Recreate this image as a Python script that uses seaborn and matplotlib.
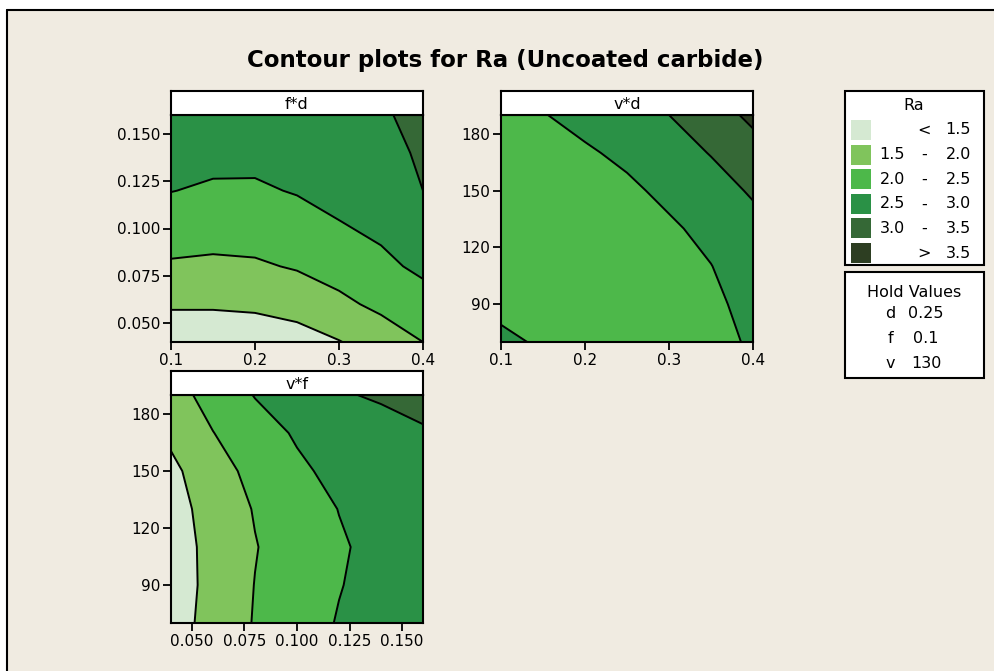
import numpy as np
import matplotlib
matplotlib.use("Agg")
import matplotlib.pyplot as plt
import seaborn as sns
from matplotlib.patches import Rectangle
from matplotlib.lines import Line2D

# ---------------- data ----------------
d_vals = [0.10, 0.15, 0.20, 0.25, 0.30, 0.35, 0.40]
f_vals = [0.04, 0.06, 0.08, 0.10, 0.12, 0.14, 0.16]
v_vals = [70, 90, 110, 130, 150, 170, 190]

# Ra over (f rows, d cols), v held at 130
ra_fd = [
    [1.16, 1.16, 1.20, 1.29, 1.48, 1.72, 2.00],
    [1.56, 1.56, 1.59, 1.69, 1.89, 2.11, 2.32],
    [1.94, 1.91, 1.94, 2.04, 2.20, 2.40, 2.59],
    [2.24, 2.19, 2.20, 2.29, 2.46, 2.58, 2.80],
    [2.51, 2.44, 2.44, 2.53, 2.64, 2.69, 3.00],
    [2.69, 2.63, 2.62, 2.70, 2.79, 2.84, 3.07],
    [2.87, 2.79, 2.79, 2.87, 2.93, 2.95, 3.12],
]
# Ra over (v rows, d cols), f held at 0.1
ra_vd = [
    [2.60, 2.44, 2.38, 2.38, 2.41, 2.45, 2.52],
    [2.38, 2.33, 2.32, 2.34, 2.38, 2.46, 2.56],
    [2.25, 2.25, 2.28, 2.33, 2.40, 2.49, 2.76],
    [2.18, 2.21, 2.26, 2.33, 2.43, 2.63, 2.86],
    [2.16, 2.22, 2.30, 2.41, 2.61, 2.82, 3.05],
    [2.22, 2.33, 2.44, 2.60, 2.81, 3.02, 3.32],
    [2.36, 2.48, 2.65, 2.82, 3.00, 3.29, 3.60],
]
# Ra over (v rows, f cols), d held at 0.25
ra_vf = [
    [1.27, 1.68, 2.03, 2.29, 2.53, 2.70, 2.87],
    [1.24, 1.65, 2.01, 2.24, 2.48, 2.66, 2.82],
    [1.26, 1.65, 1.98, 2.22, 2.45, 2.63, 2.80],
    [1.31, 1.69, 2.03, 2.27, 2.51, 2.69, 2.87],
    [1.39, 1.80, 2.14, 2.42, 2.62, 2.79, 2.96],
    [1.60, 1.99, 2.30, 2.55, 2.70, 2.84, 2.97],
    [1.80, 2.18, 2.52, 2.74, 2.96, 3.05, 3.10],
]

levels = [1.5, 2.0, 2.5, 3.0, 3.5]
legend_labels = [("", "<", "1.5"), ("1.5", "-", "2.0"), ("2.0", "-", "2.5"),
                 ("2.5", "-", "3.0"), ("3.0", "-", "3.5"), ("", ">", "3.5")]
colors = ["#d5e9d2", "#80c45c", "#4db84a", "#2a9146", "#356836", "#2d3e22"]

hold_names = ["d", "f", "v"]
hold_values = ["0.25", "0.1", "130"]

d_ticks = [0.1, 0.2, 0.3, 0.4]
f_ticks = [0.050, 0.075, 0.100, 0.125, 0.150]
v_ticks = [90, 120, 150, 180]

title = "Contour plots for Ra (Uncoated carbide)"

# ---------------- style ----------------
sns.set_theme(style="ticks")
plt.rcParams["font.family"] = ["DejaVu Sans"]
plt.rcParams["text.color"] = "black"
plt.rcParams["axes.labelcolor"] = "black"
plt.rcParams["xtick.color"] = "black"
plt.rcParams["ytick.color"] = "black"
BG = "#f0ebe1"
W, H = 995, 671
fig = plt.figure(figsize=(W / 100, H / 100), dpi=100, facecolor="white")

# background panel with top/left border
fig.patches.append(Rectangle((7 / W, 0), 1, 1 - 10 / H, transform=fig.transFigure,
                             facecolor=BG, edgecolor="none", zorder=-10))
fig.lines.append(Line2D([7 / W, 1], [1 - 10 / H, 1 - 10 / H], transform=fig.transFigure,
                        color="black", lw=1.5))
fig.lines.append(Line2D([7 / W, 7 / W], [0, 1 - 10 / H], transform=fig.transFigure,
                        color="black", lw=1.5))

fig.text(505 / W, 1 - 61 / H, title, ha="center", va="center",
         fontsize=16.5, fontweight="bold", color="black")

bounds = [-10] + levels + [10]


def panel(px, py_top, py_bot, xs, ys, zz, xticks, yticks, xfmt, yfmt, label, xlim, ylim):
    left = px / W
    width = 252 / W
    bottom = 1 - py_bot / H
    height = (py_bot - py_top) / H
    ax = fig.add_axes([left, bottom, width, height])
    X, Y = np.meshgrid(xs, ys)
    Z = np.array(zz)
    ax.contourf(X, Y, Z, levels=bounds, colors=colors)
    ax.contour(X, Y, Z, levels=levels, colors="black", linewidths=1.4)
    ax.set_xlim(*xlim)
    ax.set_ylim(*ylim)
    ax.set_xticks(xticks)
    ax.set_xticklabels([xfmt.format(t) for t in xticks])
    ax.set_yticks(yticks)
    ax.set_yticklabels([yfmt.format(t) for t in yticks])
    ax.tick_params(direction="out", length=6, width=1.3, labelsize=11, pad=2,
                   colors="black", labelcolor="black")
    for s in ax.spines.values():
        s.set_color("black")
        s.set_linewidth(1.5)
    ax.set_xlabel("")
    ax.set_ylabel("")
    # strip
    sax = fig.add_axes([left, 1 - py_top / H, width, 24 / H])
    sax.set_facecolor("white")
    sax.set_xticks([])
    sax.set_yticks([])
    for s in sax.spines.values():
        s.set_color("black")
        s.set_linewidth(1.5)
    sax.text(0.5, 0.45, label, ha="center", va="center", fontsize=11.5,
             color="black", transform=sax.transAxes)
    return ax


panel(171, 115, 342, d_vals, f_vals, ra_fd, d_ticks, f_ticks, "{:.1f}", "{:.3f}", "f*d",
      (0.1, 0.4), (0.04, 0.16))
panel(501, 115, 342, d_vals, v_vals, ra_vd, d_ticks, v_ticks, "{:.1f}", "{:.0f}", "v*d",
      (0.1, 0.4), (70, 190))
panel(171, 395, 623, f_vals, v_vals, ra_vf, f_ticks, v_ticks, "{:.3f}", "{:.0f}", "v*f",
      (0.04, 0.16), (70, 190))

# ---------------- legend box ----------------
def fx(x):
    return x / W


def fy(y):
    return 1 - y / H


fig.patches.append(Rectangle((fx(845), fy(265)), (984 - 845) / W, (265 - 91) / H,
                             transform=fig.transFigure, facecolor="white",
                             edgecolor="black", lw=1.5))
fig.text(fx(914), fy(105), "Ra", ha="center", va="center", fontsize=11.5)
for i, (lo, sym, hi) in enumerate(legend_labels):
    yc = 130 + i * 24.6
    fig.patches.append(Rectangle((fx(851), fy(yc + 10)), 20 / W, 20 / H,
                                 transform=fig.transFigure, facecolor=colors[i],
                                 edgecolor="none"))
    if lo:
        fig.text(fx(905), fy(yc), lo, ha="right", va="center", fontsize=11.5)
    fig.text(fx(924), fy(yc), sym, ha="center", va="center", fontsize=11.5)
    fig.text(fx(971), fy(yc), hi, ha="right", va="center", fontsize=11.5)

fig.patches.append(Rectangle((fx(845), fy(378)), (984 - 845) / W, (378 - 272) / H,
                             transform=fig.transFigure, facecolor="white",
                             edgecolor="black", lw=1.5))
fig.text(fx(914), fy(292), "Hold Values", ha="center", va="center", fontsize=11.5)
for i, (nm, val) in enumerate(zip(hold_names, hold_values)):
    yc = 314 + i * 24.5
    fig.text(fx(890), fy(yc), nm, ha="center", va="center", fontsize=11.5)
    fig.text(fx(926), fy(yc), val, ha="center", va="center", fontsize=11.5)

fig.savefig("out.png", dpi=100, facecolor="white")
